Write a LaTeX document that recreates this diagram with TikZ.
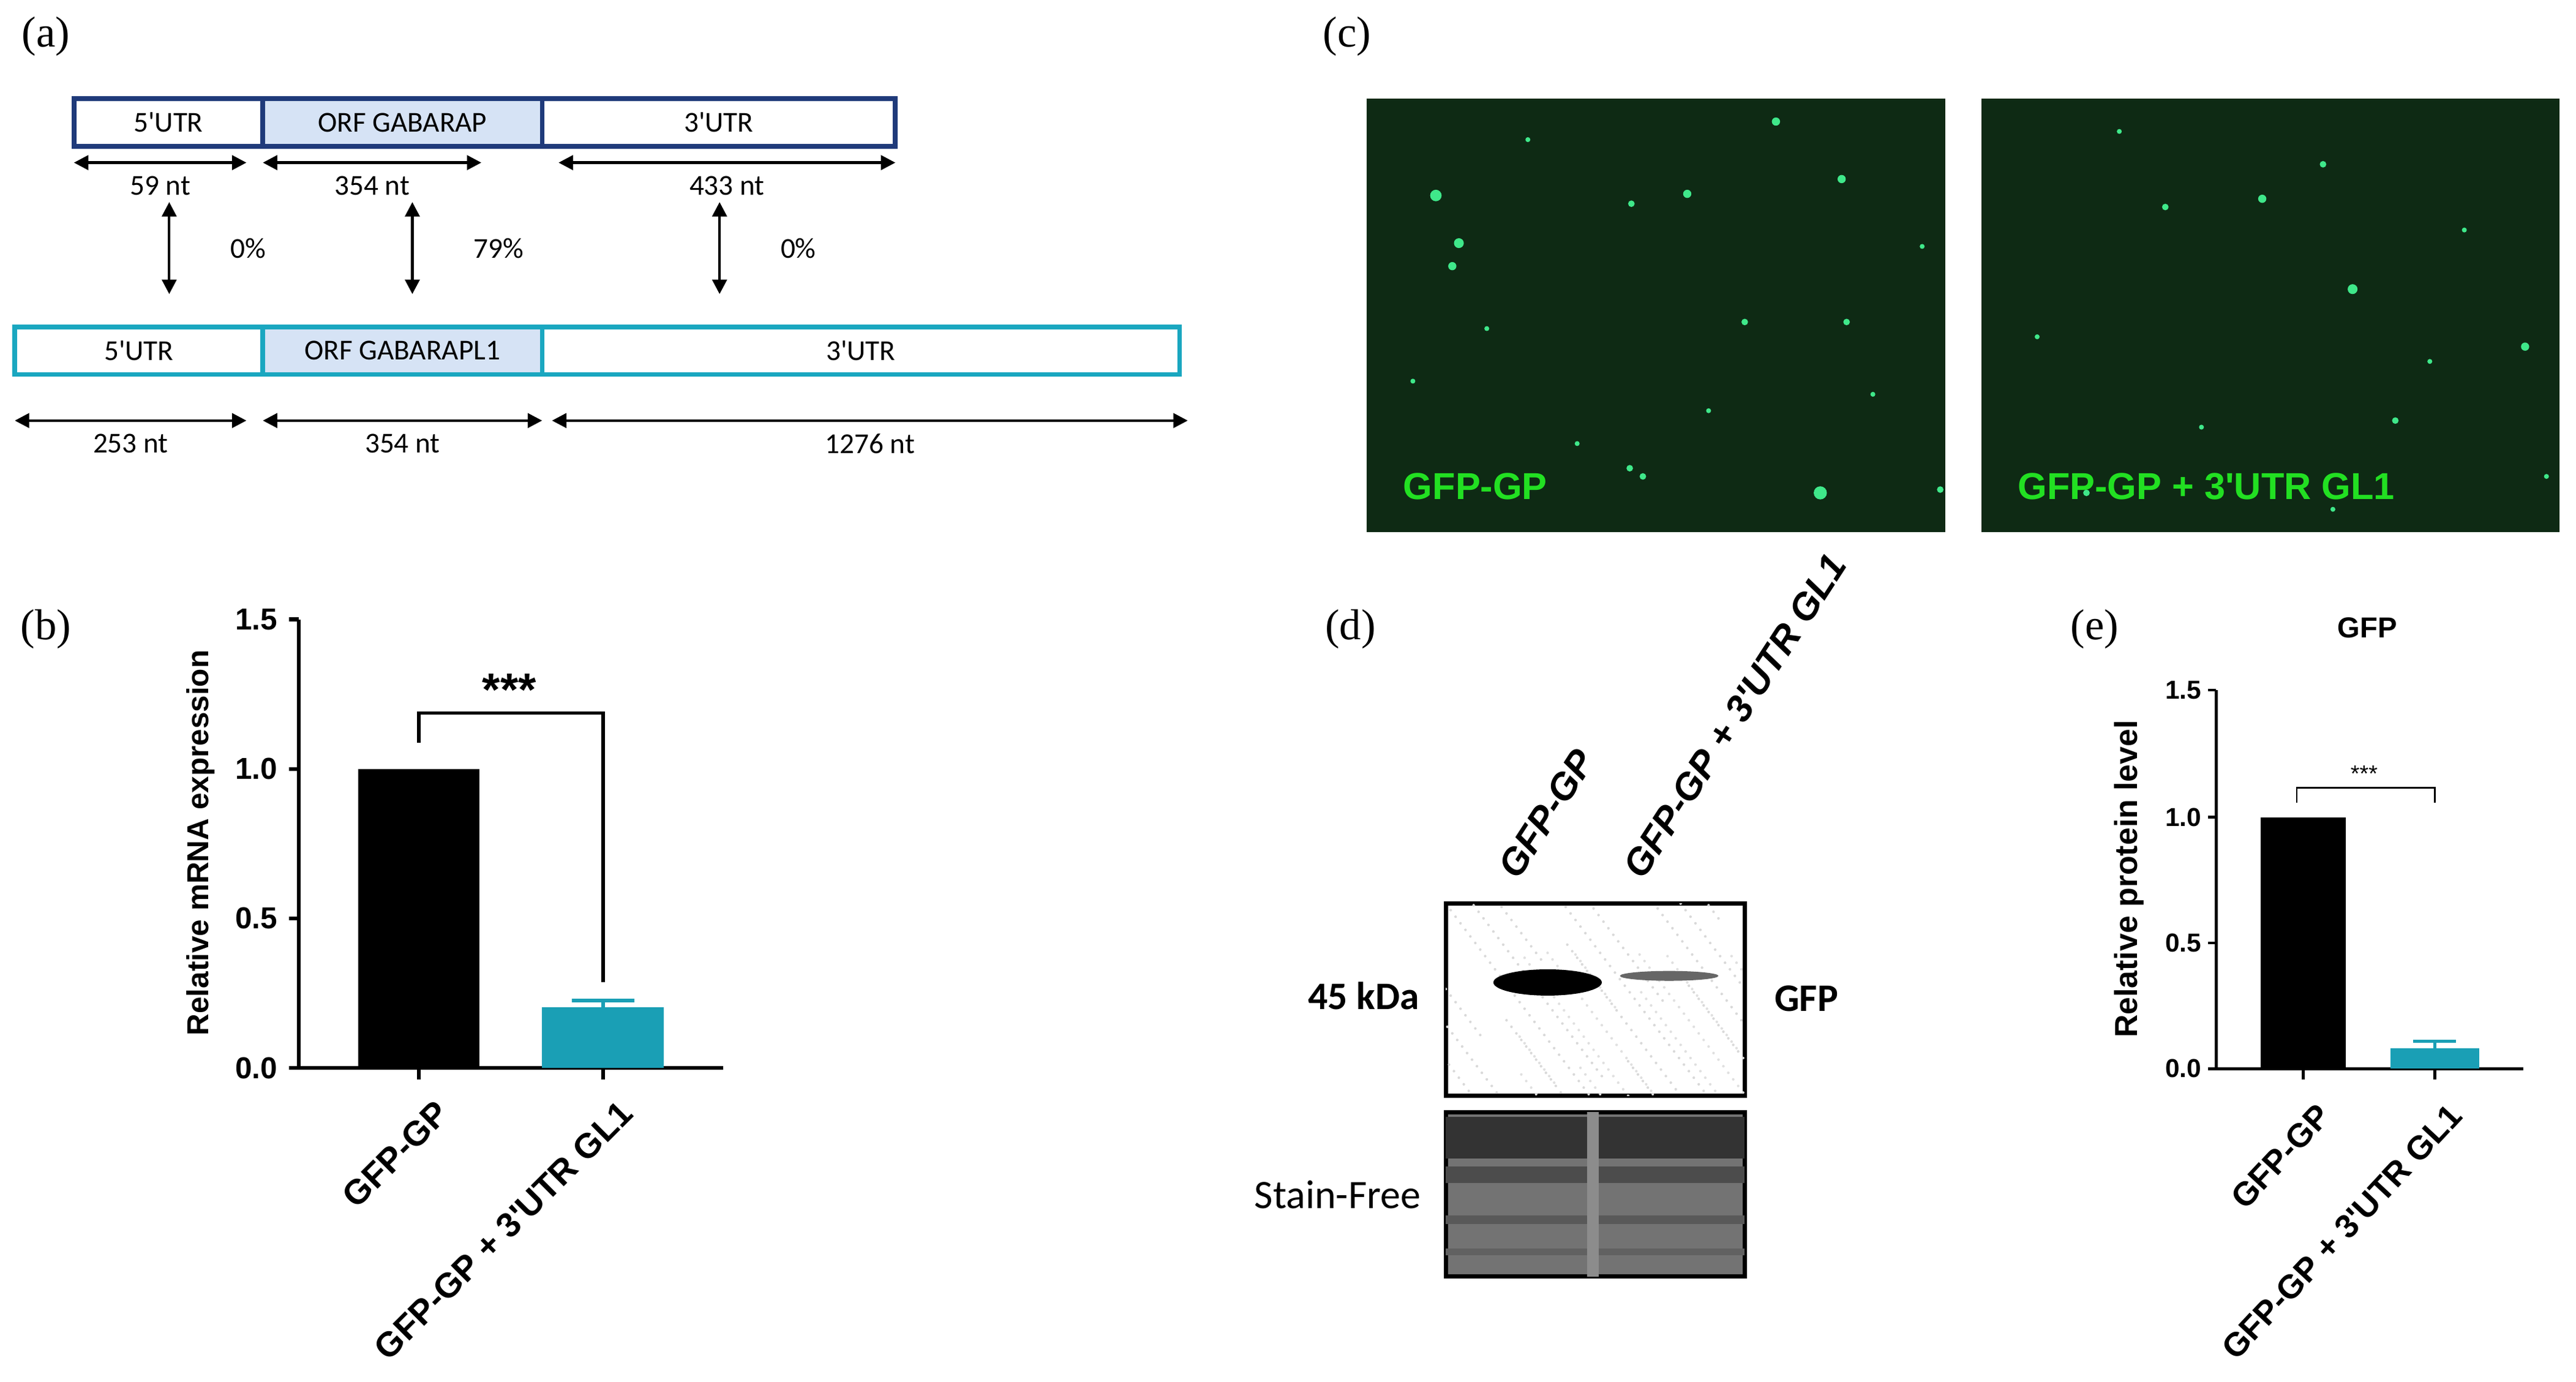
\documentclass[tikz,border=0pt]{standalone}
\usepackage{fontspec}
\setmainfont{Liberation Serif}
\newfontfamily\carl{Carlito}
\newfontfamily\ars{Liberation Sans}
\usetikzlibrary{arrows.meta}
\definecolor{navy}{HTML}{1F3A7A}
\definecolor{cyanb}{HTML}{1AA7C0}
\definecolor{orff}{HTML}{D6E3F5}
\definecolor{barc}{HTML}{1A9FB5}
\definecolor{fbg}{HTML}{0E2A14}
\definecolor{glab}{HTML}{22E022}
\definecolor{dotc}{HTML}{3FE88A}
\tikzset{
 seg/.style={draw,line width=1.6pt,minimum height=0.58cm,inner sep=0pt,font=\carl\fontsize{10}{11}\selectfont},
 dim/.style={{Triangle[width=5pt,length=5pt]}-{Triangle[width=5pt,length=5pt]},line width=0.9pt},
 lab/.style={font=\carl\fontsize{10}{11}\selectfont},
 plab/.style={font=\fontsize{15}{16}\selectfont},
 ax/.style={line width=1.3pt},
 tk/.style={font=\ars\bfseries\fontsize{10.5}{11}\selectfont},
 tke/.style={font=\ars\bfseries\fontsize{9}{10}\selectfont},
 dot/.style={fill=dotc,draw=none}
}
\begin{document}
\begin{tikzpicture}[x=0.02cm,y=-0.02cm]
\useasboundingbox (0,0) rectangle (1568,841);
% panel labels
\node[plab] (la) at (28,22) {(a)};
\node[plab] (lb) at (28,383) {(b)};
\node[plab] (lc) at (820,22) {(c)};
\node[plab] (ld) at (822,383) {(d)};
\node[plab] (le) at (1275,383) {(e)};
% ---- panel a
\node[seg,draw=navy,minimum width=2.30cm] (t1) at (102.5,74.5) {5'UTR};
\node[seg,draw=navy,fill=orff,minimum width=3.40cm] (t2) at (245,74.5) {ORF GABARAP};
\node[seg,draw=navy,minimum width=4.30cm] (t3) at (437.5,74.5) {3'UTR};
\node[seg,draw=cyanb,minimum width=3.02cm] (b1) at (84.5,213.5) {5'UTR};
\node[seg,draw=cyanb,fill=orff,minimum width=3.40cm] (b2) at (245,213.5) {ORF GABARAPL1};
\node[seg,draw=cyanb,minimum width=7.76cm] (b3) at (524,213.5) {3'UTR};
\foreach \a/\b/\y/\t/\n in {45/150/99/59 nt/d1,160/293/99/354 nt/d2,340/545/99/433 nt/d3,9/150/256/253 nt/d4,160/330/256/354 nt/d5,336/723/256/1276 nt/d6}{
  \coordinate (\n l) at (\a,\y); \coordinate (\n r) at (\b,\y);
  \draw[dim] (\n l) -- (\n r);
  \node[lab] (\n t) at ({(\a+\b)/2},\y+14) {\t};
}
\foreach \x/\p/\n in {103/0\%/v1,251/79\%/v2,438/0\%/v3}{
  \coordinate (\n a) at (\x,123); \coordinate (\n b) at (\x,179);
  \draw[dim] (\n a) -- (\n b);
  \node[lab,anchor=west] (\n t) at (\x+31,151) {\p};
}
% ---- panel c
\fill[fbg] (832,60) rectangle (1184,324);
\fill[fbg] (1206,60) rectangle (1558,324);
\foreach \x/\y/\r in {1081/74/2.5,874/119/3.5,888/148/3,884/162/2.5,1027/118/2.5,993/124/2,1121/109/2.5,1108/300/4,1000/290/2,1062/196/2,1124/196/2,992/285/2,960/270/1.5,905/200/1.5,860/232/1.5,1140/240/1.5,1181/298/2,1040/250/1.5,930/85/1.5,1170/150/1.5,
1432/176/3,1377/121/2.5,1414/100/2,1537/211/2.5,1458/256/2,1318/126/2,1270/300/2,1240/205/1.5,1340/260/1.5,1500/140/1.5,1420/310/1.5,1290/80/1.5,1550/290/1.5,1479/220/1.5}
  \fill[dot] (\x,\y) circle (\r);
\node[anchor=west,text=glab,font=\ars\bfseries\fontsize{13}{14}\selectfont] (c1) at (848,296) {GFP-GP};
\node[anchor=west,text=glab,font=\ars\bfseries\fontsize{13}{14}\selectfont] (c2) at (1222,296) {GFP-GP + 3'UTR GL1};
% ---- panel b
\draw[ax] (182,377) -- (182,650) -- (440,650);
\foreach \v/\y in {1.5/377,1.0/468,0.5/559,0.0/650}{
  \draw[ax] (176,\y) -- (182,\y);
  \node[tk,anchor=east] at (175,\y) {\v};
}
\fill[black] (218,468) rectangle (292,650);
\fill[barc] (330,613) rectangle (404,650);
\draw[barc,line width=1.3pt] (348,609) -- (386,609) (367,609) -- (367,613);
\draw[ax] (255,650) -- (255,657) (367,650) -- (367,657);
\draw[line width=1.2pt] (255,452) -- (255,434) -- (367,434) -- (367,598);
\node[font=\ars\bfseries\fontsize{16}{16}\selectfont] (sb) at (310,420) {***};
\node[tk,rotate=90] (ylb) at (122,513) {Relative mRNA expression};
\node[rotate=45,anchor=north east,font=\ars\bfseries\fontsize{12}{13}\selectfont] (xb1) at (264,660) {GFP-GP};
\node[rotate=45,anchor=north east,font=\ars\bfseries\fontsize{12}{13}\selectfont] (xb2) at (376,660) {GFP-GP + 3'UTR GL1};
% ---- panel d
\draw[line width=1.5pt,fill=white] (880,550) rectangle (1062,667);
\begin{scope}
\clip (880,550) rectangle (1062,667);
\foreach \i in {1,...,220}{
  \pgfmathsetmacro{\px}{880+mod(\i*37,182)}
  \pgfmathsetmacro{\py}{550+mod(\i*71,117)}
  \fill[black!15] (\px,\py) circle (0.8);
  \fill[black!12] (\px+45,\py+29) circle (0.8);
}
\end{scope}
\fill[black] (942,598) ellipse (33 and 8);
\fill[black!60] (1016,594) ellipse (30 and 3);
\draw[line width=1.5pt,fill=black!55] (880,677) rectangle (1062,777);
\begin{scope}
\clip (880,677) rectangle (1062,777);
\fill[black!80] (880,680) rectangle (1062,705);
\fill[black!70] (880,710) rectangle (1062,720);
\fill[black!65] (880,740) rectangle (1062,745);
\fill[black!62] (880,760) rectangle (1062,764);
\fill[black!45] (966,677) rectangle (973,777);
\end{scope}
\node[anchor=east,font=\carl\bfseries\fontsize{13.5}{14}\selectfont] (kd) at (870,606) {45 kDa};
\node[anchor=west,font=\carl\bfseries\fontsize{13.5}{14}\selectfont] (gf) at (1074,608) {GFP};
\node[anchor=east,font=\carl\fontsize{14}{15}\selectfont] (sf) at (871,727) {Stain-Free};
\node[rotate=57,anchor=south west,font=\ars\bfseries\itshape\fontsize{13}{14}\selectfont] (dl1) at (926,545) {GFP-GP};
\node[rotate=57,anchor=south west,font=\ars\bfseries\itshape\fontsize{13}{14}\selectfont] (dl2) at (1002,545) {GFP-GP + 3'UTR GL1};
% ---- panel e
\node[font=\ars\bfseries\fontsize{10}{11}\selectfont] (et) at (1441,382) {GFP};
\draw[line width=1pt] (1349,420) -- (1349,650.5) -- (1536,650.5);
\foreach \v/\y in {1.5/420,1.0/497.5,0.5/574,0.0/650.5}{
  \draw[line width=1pt] (1344,\y) -- (1349,\y);
  \node[tke,anchor=east,inner sep=1pt] at (1342,\y) {\v};
}
\fill[black] (1376,497.5) rectangle (1428,650.5);
\fill[barc] (1455,638) rectangle (1509,650.5);
\draw[barc,line width=1pt] (1469,633.7) -- (1495,633.7) (1482,633.7) -- (1482,638);
\draw[line width=1pt] (1402,650.5) -- (1402,657) (1482,650.5) -- (1482,657);
\draw[line width=0.6pt] (1398,488.6) -- (1398,479.5) -- (1482,479.5) -- (1482,488.6);
\node[font=\ars\fontsize{8}{8}\selectfont] (se) at (1439,471) {***};
\node[rotate=90,font=\ars\bfseries\fontsize{11}{12}\selectfont] (yle) at (1296,535) {Relative protein level};
\node[rotate=47,anchor=north east,font=\ars\bfseries\fontsize{11.5}{12}\selectfont] (xe1) at (1409,662) {GFP-GP};
\node[rotate=47,anchor=north east,font=\ars\bfseries\fontsize{11.5}{12}\selectfont] (xe2) at (1489,662) {GFP-GP + 3'UTR GL1};
\end{tikzpicture}
\end{document}
